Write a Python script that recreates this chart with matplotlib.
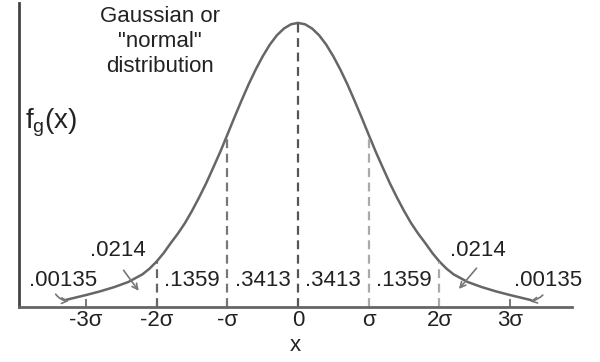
import matplotlib
matplotlib.use('Agg')
import matplotlib.pyplot as plt

plt.rcParams['font.family'] = ['Liberation Sans', 'DejaVu Sans']

# curve: x in sigma units, height relative to the peak
curve_x = [-3.3, -3.2, -3.0, -2.8, -2.6, -2.4, -2.2, -2.1, -2.0, -1.9, -1.8, -1.7, -1.6,
           -1.5, -1.4, -1.3, -1.2, -1.1, -1.0, -0.9, -0.8, -0.7, -0.6, -0.5, -0.4, -0.3,
           -0.2, -0.1, 0.0, 0.1, 0.2, 0.3, 0.4, 0.5, 0.6, 0.7, 0.8, 0.9, 1.0, 1.1, 1.2,
           1.3, 1.4, 1.5, 1.6, 1.7, 1.8, 1.9, 2.0, 2.1, 2.2, 2.4, 2.6, 2.8, 3.0, 3.2, 3.3]
curve_y = [0.024, 0.030, 0.042, 0.055, 0.070, 0.088, 0.115, 0.135, 0.160, 0.190, 0.225,
           0.258, 0.295, 0.338, 0.385, 0.435, 0.490, 0.546, 0.606, 0.667, 0.726, 0.783,
           0.835, 0.882, 0.923, 0.956, 0.980, 0.995, 1.000, 0.995, 0.980, 0.956, 0.923,
           0.882, 0.835, 0.783, 0.726, 0.667, 0.606, 0.546, 0.490, 0.435, 0.385, 0.338,
           0.295, 0.258, 0.225, 0.190, 0.160, 0.135, 0.115, 0.088, 0.070, 0.055, 0.042,
           0.030, 0.024]

tick_pos = [-3, -2, -1, 0, 1, 2, 3]
tick_labels = ['-3σ', '-2σ', '-σ', '0', 'σ', '2σ', '3σ']
dashed_at = [-2, -1, 0, 1, 2]
dashed_colors = ['#666666', '#777777', '#555555', '#aaaaaa', '#aaaaaa']
band_labels = ['.1359', '.3413', '.3413', '.1359']
tail_labels = ['.00135', '.0214', '.0214', '.00135']

fig = plt.figure(figsize=(6, 3.62), dpi=100)
ax = fig.add_axes([19 / 600, 55 / 362, 553 / 600, 304 / 362])
ax.set_xlim(-3.946, 3.875)
ax.set_ylim(0, 1.07)

ax.plot(curve_x, curve_y, color='#666666', lw=1.8, solid_capstyle='round',
        solid_joinstyle='round')

# dashed verticals up to the curve
for xv, c in zip(dashed_at, dashed_colors):
    h = curve_y[curve_x.index(float(xv))]
    ax.vlines(xv, 0, h, colors=c, linestyles=(0, (4, 2.5)), lw=1.6)

# probability in each band, centred between dashed lines
for i, lab in enumerate(band_labels):
    ax.text(dashed_at[i] + 0.5, 0.095, lab, ha='center', va='center', fontsize=16,
            color='#222222')

# tail labels with arrows
tails = [(-3.32, 0.095, -3.45, 0.053, -3.2, 0.021, 0.3),
         (-2.55, 0.20, -2.49, 0.137, -2.23, 0.049, 0.0),
         (2.54, 0.20, 2.55, 0.144, 2.25, 0.056, 0.0),
         (3.53, 0.095, 3.49, 0.049, 3.24, 0.018, -0.2)]
for lab, (tx, ty, ax0, ay0, ax1, ay1, rad) in zip(tail_labels, tails):
    ax.text(tx, ty, lab, ha='center', va='center', fontsize=16, color='#222222')
    ax.annotate('', xy=(ax1, ay1), xytext=(ax0, ay0),
                arrowprops=dict(arrowstyle='->', color='#777777', lw=1.2,
                                connectionstyle='arc3,rad=%s' % rad))

ax.set_xticks(tick_pos)
ax.set_xticklabels(tick_labels, fontsize=16, color='#222222')
ax.tick_params(axis='x', direction='in', length=6, width=1.4, color='#777777', pad=2)
ax.set_yticks([])
ax.set_xlabel('x', fontsize=16, labelpad=3, color='#222222')

for s in ['top', 'right']:
    ax.spines[s].set_visible(False)
ax.spines['left'].set_color('#444444')
ax.spines['left'].set_linewidth(2)
ax.spines['bottom'].set_color('#666666')
ax.spines['bottom'].set_linewidth(2)

ax.text(-3.86, 0.65, r'f$_\mathregular{g}$(x)', fontsize=20, ha='left', va='center',
        color='#222222')
ax.text(-1.95, 1.06, 'Gaussian or\n"normal"\ndistribution', fontsize=16,
        ha='center', va='top', linespacing=1.25, color='#222222')

fig.savefig('out.png', dpi=100)
